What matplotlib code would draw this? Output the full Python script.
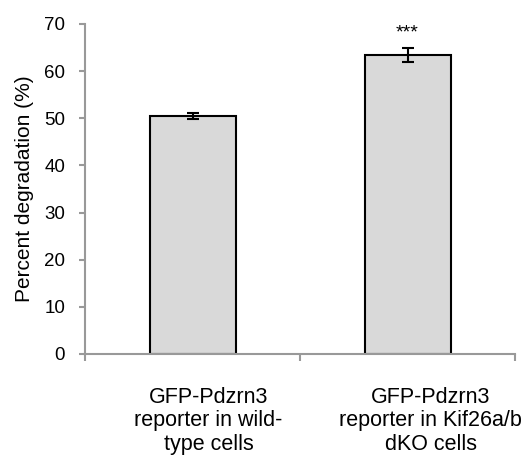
import matplotlib
matplotlib.use("Agg")
import matplotlib.pyplot as plt

categories = ["GFP-Pdzrn3\nreporter in wild-\ntype cells",
              "GFP-Pdzrn3\nreporter in Kif26a/b\ndKO cells"]
values = [50.5, 63.4]
errors = [0.6, 1.5]
yticks = [0, 10, 20, 30, 40, 50, 60, 70]
sig = ["", "***"]

# layout: horizontal shift of category labels (in category units)
label_shift = [0.074, 0.109]

plt.rcParams['font.family'] = ['Liberation Sans', 'DejaVu Sans']

fig = plt.figure(figsize=(5.27, 4.55), dpi=100)
W, H = 527, 455
ax = fig.add_axes([85 / W, (H - 354) / H, 430 / W, 330 / H])

x = list(range(len(values)))
ax.bar(x, values, width=0.4, color="#d9d9d9", edgecolor="black", linewidth=1.5, zorder=2)
ax.errorbar(x, values, yerr=errors, fmt="none", ecolor="black", elinewidth=1.5,
            capsize=4.5, capthick=1.5, zorder=3)
for xi, v, e, s in zip(x, values, errors, sig):
    if s:
        ax.text(xi, 67.2, s, ha="center", va="baseline", fontsize=14)

ax.set_xlim(-0.5, 1.5)
ax.set_ylim(0, 70)
ax.set_yticks(yticks)
ax.set_yticklabels([str(t) for t in yticks], fontsize=13.5)
ax.set_xticks([-0.5, 0.5, 1.5])
ax.set_xticklabels([])
for xi, c, sh in zip(x, categories, label_shift):
    ax.text(xi + sh, -7.0, c, ha="center", va="top", fontsize=15.5, linespacing=1.15,
            multialignment="center", transform=ax.transData, clip_on=False)
ax.set_ylabel("Percent degradation (%)", fontsize=15, labelpad=7)

gray = "#999999"
for sp in ["top", "right"]:
    ax.spines[sp].set_visible(False)
for sp in ["left", "bottom"]:
    ax.spines[sp].set_color(gray)
    ax.spines[sp].set_linewidth(1.5)
ax.tick_params(axis="y", direction="out", length=4.3, width=1.5, color=gray, pad=10)
ax.tick_params(axis="x", direction="out", length=5, width=1.5, color=gray)

fig.savefig("out.png", dpi=100)
